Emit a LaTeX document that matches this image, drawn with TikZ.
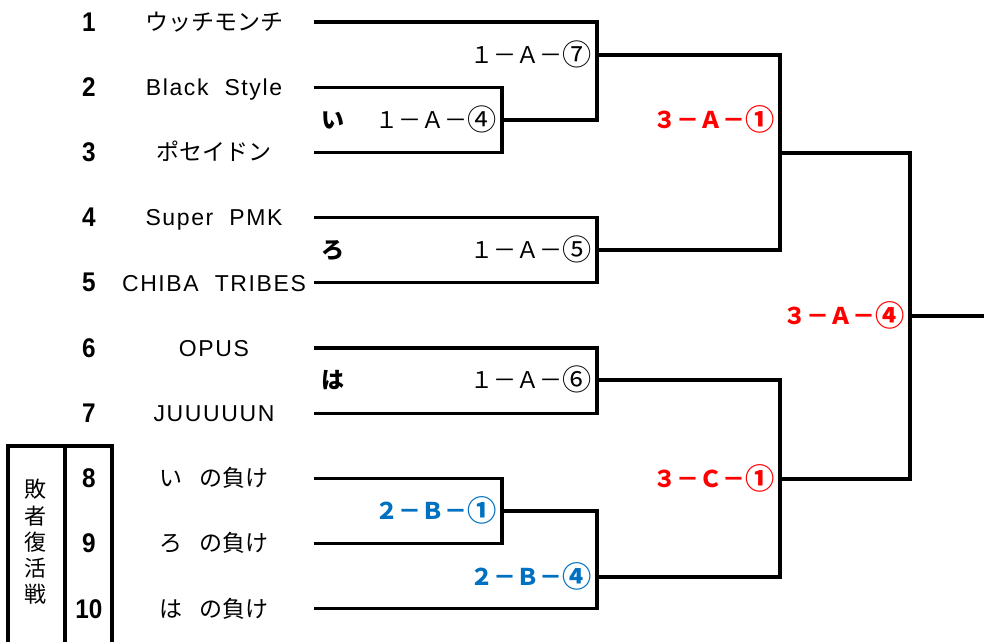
\documentclass[tikz,border=0pt]{standalone}
\usepackage{fontspec}
\setmainfont{Noto Sans CJK JP}
\newfontfamily\latino[LetterSpace=7]{Liberation Sans}
\newfontfamily\numeri[FakeStretch=0.9]{Liberation Sans}
\definecolor{rosso}{RGB}{255,0,0}
\definecolor{blu}{RGB}{0,112,192}
\newcommand{\cerchio}[1]{\raisebox{-0.1em}{\scalebox{1.27}{#1}}}

\begin{document}
\begin{tikzpicture}[x=1pt, y=-1pt,
    linea/.style={line width=3.2pt},
    testo/.style={inner sep=0pt, text height=16.5pt, text depth=0pt, font=\fontsize{23}{23}\selectfont},
    numero/.style={inner sep=0pt, font=\numeri\bfseries\fontsize{27}{27}\selectfont},
    esito/.style={testo, anchor=east},
    forte/.style={testo, font=\fontsize{23}{23}\selectfont\bfseries}]
    \useasboundingbox (0,0) rectangle (984,641);

    % Squadre: numero, nome e inizio della linea
    \foreach \i/\nome in {1/ウッチモンチ, 2/{\latino Black~~Style}, 3/ポセイドン, 4/{\latino Super~~PMK}, 5/{\latino CHIBA~~TRIBES}, 6/{\latino OPUS}, 7/{\latino JUUUUUN}, 8/い\hspace{0.7em}の負け, 9/ろ\hspace{0.7em}の負け, 10/は\hspace{0.7em}の負け} {
        \node[numero] (num\i) at (89, {22+(\i-1)*65.2}) {\i};
        \node[testo] (sq\i) at (214, {22+(\i-1)*65.2}) {\nome};
        \coordinate (s\i) at (314, {22+(\i-1)*65.2});
    }

    % Riquadro del ripescaggio
    \draw[linea] (8,650) |- (112,446) -- (112,650);
    \draw[linea] (65,446) -- (65,650);
    \node[inner sep=0pt, align=center, font=\fontsize{22}{26.3}\selectfont] (rip) at (35,542) {敗\\者\\復\\活\\戦};

    % Punti di incontro
    \coordinate (q1) at (502,120);
    \coordinate (q2) at (597,55);
    \coordinate (q3) at (597,250);
    \coordinate (q4) at (597,380);
    \coordinate (q5) at (502,511);
    \coordinate (q6) at (597,577);
    \coordinate (q7) at (780,153);
    \coordinate (q8) at (780,479);
    \coordinate (q9) at (910,316);
    \coordinate (fine) at (984,316);

    % Tabellone
    \draw[linea] (s2) -| (q1) |- (s3);
    \draw[linea] (s1) -| (q2) |- (q1);
    \draw[linea] (s4) -| (q3) |- (s5);
    \draw[linea] (s6) -| (q4) |- (s7);
    \draw[linea] (s8) -| (q5) |- (s9);
    \draw[linea] (q5) -| (q6) |- (s10);
    \draw[linea] (q2) -| (q7) |- (q3);
    \draw[linea] (q4) -| (q8) |- (q6);
    \draw[linea] (q7) -| (q9) |- (q8);
    \draw[linea] (q9) -- (fine);

    % Sigle degli incontri
    \node[forte] (m1) at (333,120) {い};
    \node[forte] (m2) at (333,250) {ろ};
    \node[forte] (m3) at (333,380) {は};

    % Numeri delle partite
    \node[esito] (p1) at ([xshift=-5pt]q1) {１－Ａ－\cerchio{④}};
    \node[esito] (p2) at ([xshift=-5pt]q2) {１－Ａ－\cerchio{⑦}};
    \node[esito] (p3) at ([xshift=-5pt]q3) {１－Ａ－\cerchio{⑤}};
    \node[esito] (p4) at ([xshift=-5pt]q4) {１－Ａ－\cerchio{⑥}};
    \node[esito, forte, anchor=east, blu] (p5) at ([xshift=-5pt]q5) {２－Ｂ－\cerchio{①}};
    \node[esito, forte, anchor=east, blu] (p6) at ([xshift=-5pt]q6) {２－Ｂ－\cerchio{④}};
    \node[esito, forte, anchor=east, rosso] (p7) at (775,120) {３－Ａ－\cerchio{①}};
    \node[esito, forte, anchor=east, rosso] (p8) at ([xshift=-5pt]q8) {３－Ｃ－\cerchio{①}};
    \node[esito, forte, anchor=east, rosso] (p9) at ([xshift=-5pt]q9) {３－Ａ－\cerchio{④}};
\end{tikzpicture}
\end{document}
